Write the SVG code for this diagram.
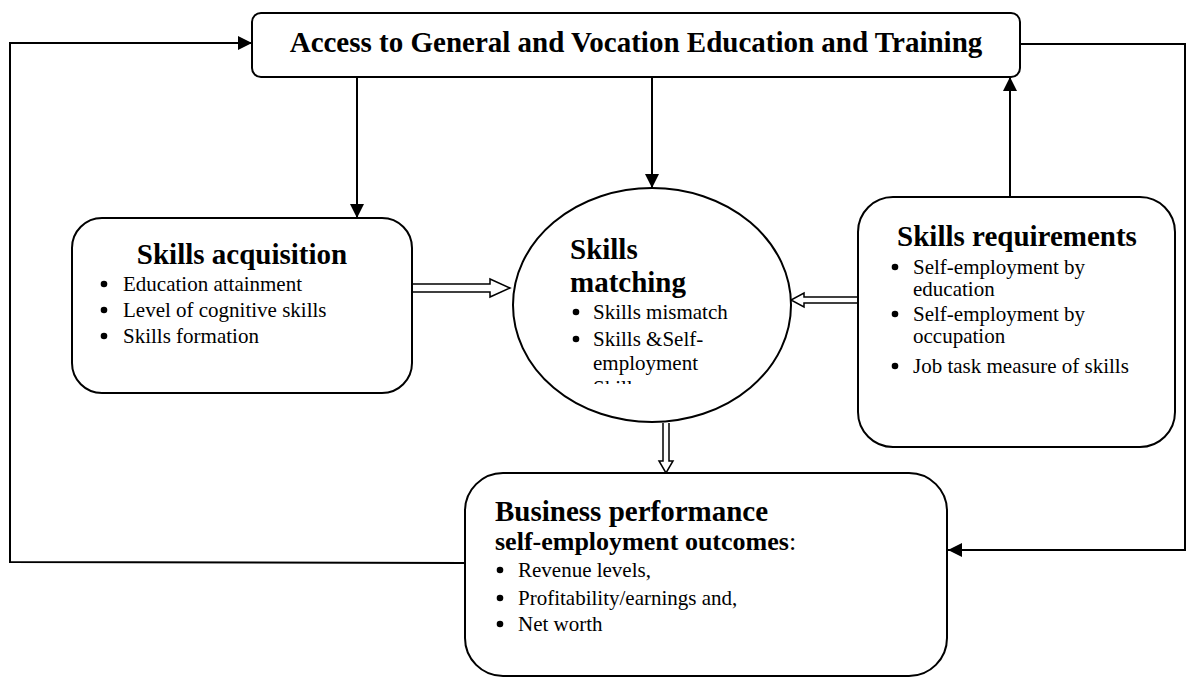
<svg xmlns="http://www.w3.org/2000/svg" width="1189" height="678" viewBox="0 0 1189 678">
  <style>
    .box { fill: #fff; stroke: #000; stroke-width: 2; }
    .wire { fill: none; stroke: #000; stroke-width: 2; }
    .hollow { fill: #fff; stroke: #000; stroke-width: 1.5; stroke-linejoin: miter; }
    .title { font-family: "Liberation Serif", "Times New Roman", serif; font-weight: bold; font-size: 29px; fill: #000; }
    .sub { font-family: "Liberation Serif", "Times New Roman", serif; font-weight: bold; font-size: 26px; fill: #000; }
    .item { font-family: "Liberation Serif", "Times New Roman", serif; font-size: 21px; fill: #000; }
    .dot { fill: #000; }
  </style>
  <defs>
    <marker id="head" viewBox="0 0 14 14" refX="14" refY="7" markerWidth="14" markerHeight="14" markerUnits="userSpaceOnUse" orient="auto">
      <path d="M0,0 L14,7 L0,14 Z" fill="#000"/>
    </marker>
    <clipPath id="clipMatch">
      <rect x="560" y="180" width="200" height="204"/>
    </clipPath>
  </defs>

  <!-- connectors -->
  <g id="connectors">
    <!-- feedback loop from outcomes back to training access -->
    <path class="wire" d="M465,563 L10,562 L10,43 L252,43" marker-end="url(#head)"/>
    <!-- training access to outcomes along the right side -->
    <path class="wire" d="M1020,44 L1185,44 L1185,550 L948,550" marker-end="url(#head)"/>
    <!-- training access down to acquisition and matching -->
    <path class="wire" d="M357,77 L357,218" marker-end="url(#head)"/>
    <path class="wire" d="M652,77 L652,188" marker-end="url(#head)"/>
    <!-- requirements up to training access -->
    <path class="wire" d="M1010,197 L1010,77" marker-end="url(#head)"/>
    <!-- hollow block arrows -->
    <path class="hollow" d="M412,284 L490,284 L490,279 L510,288 L490,297 L490,292 L412,292"/>
    <path class="hollow" d="M858,297 L804,297 L804,293 L791,300 L804,307 L804,303 L858,303"/>
    <path class="hollow" d="M663,423 L663,461 L659,461 L666,473 L673,461 L669,461 L669,423"/>
  </g>

  <!-- Access to General and Vocation Education and Training -->
  <g id="node-access">
    <rect class="box" x="252" y="13" width="768" height="64" rx="9"/>
    <text class="title" x="636" y="52" text-anchor="middle">Access to General and Vocation Education and Training</text>
  </g>

  <!-- Skills acquisition -->
  <g id="node-acquisition">
    <rect class="box" x="72" y="218" width="340" height="175" rx="30"/>
    <text class="title" x="242" y="264" text-anchor="middle">Skills acquisition</text>
    <circle class="dot" cx="104" cy="284" r="3.3"/>
    <text class="item" x="123" y="291">Education attainment</text>
    <circle class="dot" cx="104" cy="310" r="3.3"/>
    <text class="item" x="123" y="317">Level of cognitive skills</text>
    <circle class="dot" cx="104" cy="336" r="3.3"/>
    <text class="item" x="123" y="343">Skills formation</text>
  </g>

  <!-- Skills matching -->
  <g id="node-matching">
    <ellipse class="box" cx="652" cy="305" rx="139" ry="117"/>
    <text class="title" x="570" y="259">Skills</text>
    <text class="title" x="570" y="292">matching</text>
    <circle class="dot" cx="576" cy="312" r="3.3"/>
    <text class="item" x="593" y="319">Skills mismatch</text>
    <circle class="dot" cx="576" cy="339" r="3.3"/>
    <text class="item" x="593" y="346">Skills &amp;Self-</text>
    <text class="item" x="593" y="370">employment</text>
    <text class="item" x="593" y="395" clip-path="url(#clipMatch)">Skills</text>
  </g>

  <!-- Skills requirements -->
  <g id="node-requirements">
    <rect class="box" x="858" y="197" width="317" height="250" rx="35"/>
    <text class="title" x="1017" y="246" text-anchor="middle">Skills requirements</text>
    <circle class="dot" cx="895" cy="267" r="3.3"/>
    <text class="item" x="913" y="274">Self-employment by</text>
    <text class="item" x="913" y="296">education</text>
    <circle class="dot" cx="895" cy="314" r="3.3"/>
    <text class="item" x="913" y="321">Self-employment by</text>
    <text class="item" x="913" y="343">occupation</text>
    <circle class="dot" cx="895" cy="366" r="3.3"/>
    <text class="item" x="913" y="373">Job task measure of skills</text>
  </g>

  <!-- Business performance -->
  <g id="node-performance">
    <rect class="box" x="465" y="473" width="482" height="203" rx="38"/>
    <text class="title" x="495" y="521">Business performance</text>
    <text class="sub" x="495" y="550">self-employment outcomes<tspan font-weight="normal">:</tspan></text>
    <circle class="dot" cx="500" cy="570" r="3.3"/>
    <text class="item" x="518" y="577">Revenue levels,</text>
    <circle class="dot" cx="500" cy="598" r="3.3"/>
    <text class="item" x="518" y="605">Profitability/earnings and,</text>
    <circle class="dot" cx="500" cy="624" r="3.3"/>
    <text class="item" x="518" y="631">Net worth</text>
  </g>
</svg>
